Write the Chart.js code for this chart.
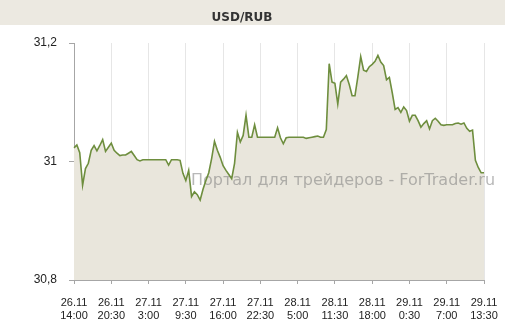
<!DOCTYPE html>
<html>
<head>
<meta charset="utf-8">
<script src="https://cdn.jsdelivr.net/npm/chart.js@4.4.1/dist/chart.umd.min.js"></script>
<style>
  body { margin: 0; background: #fff; }
  #chart { display: block; }
</style>
</head>
<body>
<canvas id="chart" width="505" height="333"></canvas>
<script>
const chartTitle = 'USD/RUB';
const watermark = 'Портал для трейдеров - ForTrader.ru';

// tick labels, one every 13 half-hour bars
const tickDates = ['26.11', '26.11', '27.11', '27.11', '27.11', '27.11', '28.11', '28.11', '28.11', '29.11', '29.11', '29.11'];
const tickTimes = ['14:00', '20:30', '3:00', '9:30', '16:00', '22:30', '5:00', '11:30', '18:00', '0:30', '7:00', '13:30'];
const tickEvery = 13;

const yTicks = [30.8, 31.0, 31.2];

// USD/RUB, 30 min closes
const rates = [
  31.023, 31.028, 31.015, 30.960, 30.988, 30.997, 31.019, 31.027, 31.018, 31.027,
  31.037, 31.017, 31.024, 31.031, 31.019, 31.014, 31.010, 31.011, 31.011, 31.014,
  31.017, 31.010, 31.003, 31.001, 31.003, 31.003, 31.003, 31.003, 31.003, 31.003,
  31.003, 31.003, 31.003, 30.994, 31.003, 31.003, 31.003, 31.002, 30.980, 30.968,
  30.985, 30.941, 30.949, 30.944, 30.935, 30.953, 30.968, 30.981, 31.005, 31.034,
  31.019, 31.007, 30.993, 30.985, 30.978, 30.971, 30.997, 31.049, 31.033, 31.044,
  31.078, 31.041, 31.041, 31.062, 31.041, 31.041, 31.041, 31.041, 31.041, 31.041,
  31.041, 31.057, 31.040, 31.030, 31.040, 31.041, 31.041, 31.041, 31.041, 31.041,
  31.041, 31.039, 31.040, 31.041, 31.042, 31.043, 31.041, 31.041, 31.054, 31.165,
  31.134, 31.132, 31.097, 31.134, 31.139, 31.145, 31.130, 31.111, 31.111, 31.143,
  31.177, 31.154, 31.152, 31.160, 31.164, 31.169, 31.179, 31.168, 31.162, 31.138,
  31.142, 31.116, 31.088, 31.091, 31.083, 31.092, 31.086, 31.068, 31.078, 31.078,
  31.069, 31.058, 31.064, 31.069, 31.055, 31.069, 31.073, 31.068, 31.062, 31.061,
  31.062, 31.062, 31.062, 31.064, 31.065, 31.063, 31.065, 31.056, 31.051, 31.053,
  31.002, 30.990, 30.981, 30.981
];

// half-hour slots from 26.11 14:00
const slots = [];
for (let i = 0; i < rates.length; i++) {
  const m = 14 * 60 + i * 30;
  const day = 26 + Math.floor(m / 1440);
  const mm = m % 1440;
  slots.push(day + '.11 ' + Math.floor(mm / 60) + ':' + String(mm % 60).padStart(2, '0'));
}

const titleBar = {
  id: 'titleBar',
  beforeDraw(chart) {
    const ctx = chart.ctx;
    ctx.save();
    ctx.fillStyle = '#ECE9E1';
    ctx.fillRect(0, 0, chart.width, 25);
    ctx.restore();
  }
};

const stamp = {
  id: 'stamp',
  beforeDatasetsDraw(chart) {
    const ctx = chart.ctx;
    ctx.save();
    ctx.font = '16px "DejaVu Sans"';
    ctx.fillStyle = 'rgba(125, 125, 125, 0.55)';
    ctx.textBaseline = 'alphabetic';
    ctx.fillText(watermark, 191, 185);
    ctx.restore();
  }
};

const onTick = i => i % tickEvery === 0;

new Chart(document.getElementById('chart'), {
  type: 'line',
  data: {
    labels: slots,
    datasets: [{
      data: rates,
      borderColor: '#6E8E3E',
      borderWidth: 1.6,
      backgroundColor: '#E9E6DC',
      fill: 'start',
      pointRadius: 0,
      tension: 0
    }]
  },
  options: {
    responsive: false,
    animation: false,
    layout: { padding: { left: 0, right: 21, top: 0, bottom: 0 } },
    plugins: {
      legend: { display: false },
      tooltip: { enabled: false },
      filler: { drawTime: 'beforeDatasetsDraw' },
      title: {
        display: true,
        text: chartTitle,
        color: '#333',
        font: { family: 'DejaVu Sans', size: 12, weight: 'bold', lineHeight: 1.2 },
        padding: { top: 10.5, bottom: 18.1 }
      }
    },
    scales: {
      x: {
        offset: false,
        ticks: {
          autoSkip: false,
          maxRotation: 0,
          minRotation: 0,
          padding: 12,
          color: '#222',
          font: { family: 'Liberation Sans', size: 11, lineHeight: 1.23 },
          callback: (v, i) => onTick(i) ? [tickDates[i / tickEvery], tickTimes[i / tickEvery]] : ''
        },
        grid: {
          color: c => onTick(c.index) ? '#E6E6E6' : 'transparent',
          tickColor: c => onTick(c.index) ? '#A6A6A6' : 'transparent',
          tickLength: 4
        },
        border: { color: '#A6A6A6' },
        afterFit: s => {
          s.height = 53;
          s.paddingLeft = 0;
          s.paddingRight = 0;
        }
      },
      y: {
        min: yTicks[0],
        max: yTicks[yTicks.length - 1],
        afterBuildTicks: s => { s.ticks = yTicks.map(v => ({ value: v })); },
        ticks: {
          padding: 12,
          color: '#222',
          font: { family: 'Liberation Sans', size: 12 },
          callback: v => String(Number(v.toFixed(1))).replace('.', ',')
        },
        grid: { drawOnChartArea: false, tickLength: 5, tickColor: '#A6A6A6' },
        border: { color: '#A6A6A6' },
        afterFit: s => { s.width = 74; }
      }
    }
  },
  plugins: [titleBar, stamp]
});
</script>
</body>
</html>
